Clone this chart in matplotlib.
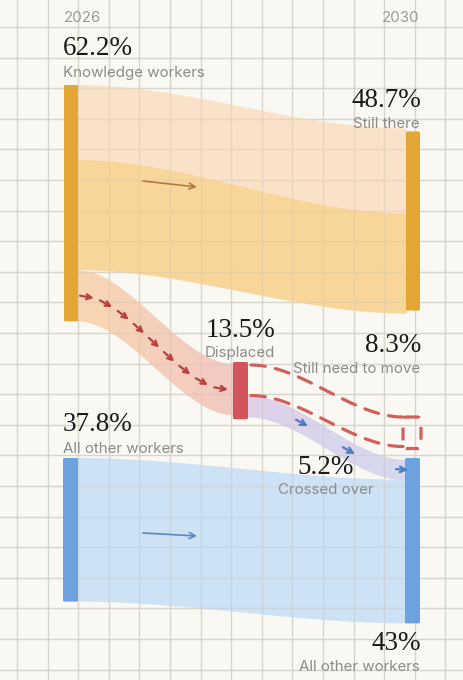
import numpy as np
import matplotlib
matplotlib.use("Agg")
import matplotlib.pyplot as plt
from matplotlib.patches import Polygon, FancyBboxPatch
from matplotlib.colors import to_rgb

# ---------------- data ----------------
years = ["2026", "2030"]
knowledge_2026 = 62.2
others_2026 = 37.8
still_there = 48.7
displaced = 13.5
still_need_to_move = 8.3
crossed_over = 5.2
others_2030 = 43.0

left_labels = ["Knowledge workers", "All other workers"]
mid_label = "Displaced"
right_labels = ["Still there", "Still need to move", "Crossed over", "All other workers"]

# ---------------- layout ----------------
W, H = 464, 680
K = 3.8                      # pixels per percentage point
XL0, XL1 = 64, 78            # left bars
XM0, XM1 = 233, 248          # displaced bar
XR0, XR1 = 406, 420          # right bars

BG = "#FAF8F3"
GRID = "#E0DDD7"
ORANGE_BAR = "#E3A533"
ORANGE_LIGHT = "#F9E0C3"
ORANGE_MID = "#F8D592"
RED_BAR = "#D2555E"
PEACH = "#F7D3AA"
PINK = "#F3C4C0"
LAV = "#DCCDE8"
LAV2 = "#D2D6EF"
BLUE_BAR = "#6EA2DF"
BLUE_FLOW = "#C8E0F5"
DASH = "#D0605C"
GRAY = "#8C8C8C"

fig = plt.figure(figsize=(W / 100, H / 100), dpi=100)
fig.patch.set_facecolor(BG)
ax = fig.add_axes([0, 0, 1, 1])
ax.set_xlim(0, W)
ax.set_ylim(H, 0)
ax.axis("off")
ax.set_facecolor(BG)

# grid (below, and faintly above the washes so it shows through)
step = 30.6
for k in range(-1, 17):
    ax.axvline(17 + step * k, color=GRID, lw=1.0, zorder=0)
    ax.axvline(17 + step * k, color="#C9C1B4", lw=0.9, alpha=0.28, zorder=2)
for k in range(-1, 23):
    ax.axhline(27 + step * k, color=GRID, lw=1.0, zorder=0)
    ax.axhline(27 + step * k, color="#C9C1B4", lw=0.9, alpha=0.28, zorder=2)


def smooth(t):
    t = np.clip(t, 0, 1)
    return t * t * (3 - 2 * t)


def edge(x0, x1, y0, y1, n=120):
    xs = np.linspace(x0, x1, n)
    ys = y0 + (y1 - y0) * smooth((xs - x0) / (x1 - x0))
    return xs, ys


def band(x0, x1, t0, b0, t1, b1, color, alpha=0.85, z=1):
    xs, ts = edge(x0, x1, t0, t1)
    _, bs = edge(x0, x1, b0, b1)
    pts = np.vstack([np.column_stack([xs, ts]), np.column_stack([xs[::-1], bs[::-1]])])
    p = Polygon(pts, closed=True, facecolor=color, edgecolor="none", alpha=alpha, zorder=z)
    ax.add_patch(p)
    return p


def grad_band(x0, x1, t0, b0, t1, b1, c0, c1, alpha=0.85, z=1):
    p = band(x0, x1, t0, b0, t1, b1, "none", alpha=0, z=z)
    ymin, ymax = min(t0, t1), max(b0, b1)
    n = 200
    a = np.linspace(0, 1, n)
    r0, r1 = np.array(to_rgb(c0)), np.array(to_rgb(c1))
    img = (r0[None, :] * (1 - a[:, None]) + r1[None, :] * a[:, None])[None, :, :]
    im = ax.imshow(img, extent=[x0, x1, ymax, ymin], aspect="auto", alpha=alpha,
                   zorder=z, interpolation="bilinear")
    im.set_clip_path(p)
    ax.set_xlim(0, W)
    ax.set_ylim(H, 0)


# node spans (heights from values)
kt_top = 85
kt_bot = kt_top + knowledge_2026 * K
ks_bot = kt_top + still_there * K
st_mid = 221
st_top = st_mid - still_there * K / 2
st_bot = st_mid + still_there * K / 2
d_top = 364
d_bot = d_top + displaced * K
d_split = d_top + still_need_to_move * K
o_top = 458
o_bot = o_top + others_2026 * K
r_top = 460
r_cross = r_top + crossed_over * K
r_bot = r_top + others_2030 * K

# orange main flow (two watercolor layers)
band(XL1 - 1, XR0 + 1, kt_top, ks_bot, st_top, st_bot, ORANGE_LIGHT, alpha=0.9)
band(XL1 - 1, XR0 + 1, kt_top + 75, ks_bot, st_top + 85, st_bot, ORANGE_MID, alpha=0.85)

# displaced flow (peach -> pink)
grad_band(XL1 - 1, XM0 + 1, ks_bot, kt_bot, d_top, d_bot, PEACH, PINK, alpha=0.9)

# crossed over flow
grad_band(XM1 - 1, XR0 + 1, d_split, d_bot + 2, r_top, r_cross + 1, LAV, LAV2, alpha=0.9)

# blue main flow
band(XL1 - 1, XR0 + 1, o_top, o_bot, r_cross, r_bot, BLUE_FLOW, alpha=0.9)

# bars
def bar(x0, x1, y0, y1, color):
    ax.add_patch(FancyBboxPatch((x0, y0), x1 - x0, y1 - y0,
                                boxstyle="round,pad=0,rounding_size=1.5",
                                facecolor=color, edgecolor="none", zorder=3))

bar(XL0, XL1, kt_top, kt_bot, ORANGE_BAR)
bar(XR0, XR1, st_top + 3, st_bot - 3, ORANGE_BAR)
bar(XM0, XM1, d_top - 2, d_bot + 4, RED_BAR)
bar(XL0 - 1, XL1, o_top, o_bot, BLUE_BAR)
bar(XR0 - 1, XR1, r_top - 2, r_bot, BLUE_BAR)

# dashed "still need to move" ghost flow
bx0, bx1 = 403, 421
xs, ts = edge(XM1 + 3, bx0, d_top + 1, d_top + 53)
_, bs = edge(XM1 + 3, bx0, d_split, d_split + 51)
ax.plot(xs, ts, color=DASH, lw=2.3, ls=(0, (4.5, 3.2)), zorder=4, dash_capstyle="round")
ax.plot(xs, bs, color=DASH, lw=2.3, ls=(0, (4.5, 3.2)), zorder=4, dash_capstyle="round")
ax.add_patch(FancyBboxPatch((bx0, d_top + 53), bx1 - bx0, still_need_to_move * K,
                            boxstyle="round,pad=0,rounding_size=4", facecolor="none",
                            edgecolor=DASH, lw=2.3, ls=(0, (4, 3)), zorder=4))

# arrows
def arrow(p0, p1, color, lw=1.3, ms=10):
    ax.annotate("", xy=p1, xytext=p0,
                arrowprops=dict(arrowstyle="->", color=color, lw=lw, mutation_scale=ms,
                                shrinkA=0, shrinkB=0), zorder=5)

arrow((143, 181), (197, 187), "#B47A45", lw=1.2, ms=11)
arrow((143, 533), (197, 536), "#5C88C4", lw=1.2, ms=11)

# chevron arrows along displaced centre line
cx, cy = edge(XL1 + 2, XM0 - 5, (ks_bot + kt_bot) / 2, (d_top + d_bot) / 2, n=400)
seg = np.hypot(np.diff(cx), np.diff(cy))
s = np.concatenate([[0], np.cumsum(seg)])
n_arr = 9
alen = 14
starts = np.linspace(0, s[-1] - alen, n_arr)
for s0 in starts:
    x0, y0 = np.interp(s0, s, cx), np.interp(s0, s, cy)
    x1, y1 = np.interp(s0 + alen, s, cx), np.interp(s0 + alen, s, cy)
    arrow((x0, y0), (x1, y1), "#B9423F", lw=1.6, ms=9)

# blue arrows in crossed-over flow
lx, ly = edge(XM1, XR0, (d_split + d_bot) / 2, (r_top + r_cross) / 2, n=400)
for xa in (296, 343, 396):
    ya0 = np.interp(xa, lx, ly)
    ya1 = np.interp(xa + 12, lx, ly)
    arrow((xa, ya0), (xa + 12, ya1), "#4E7CC2", lw=1.6, ms=10)

# ---------------- text ----------------
SANS = ["Inter", "DejaVu Sans"]
SERIF = ["Liberation Serif", "DejaVu Serif"]
lab_fs = 10.9
num_fs = 19.5

ax.text(64, 22, years[0], color="#9A9A9A", fontsize=10.8, family=SANS, va="baseline", ha="left")
ax.text(420, 22, years[1], color="#9A9A9A", fontsize=10.8, family=SANS, va="baseline", ha="right")

def num(x, y, v, ha):
    txt = f"{v:g}%"
    ax.text(x, y, txt, fontsize=num_fs, family=SERIF, color="#1A1A1A", va="baseline", ha=ha)

def lab(x, y, t, ha):
    ax.text(x, y, t, fontsize=lab_fs, family=SANS, color=GRAY, va="baseline", ha=ha)

num(63, 55, knowledge_2026, "left"); lab(63, 77, left_labels[0], "left")
num(421, 107, still_there, "right"); lab(420, 128, right_labels[0], "right")
num(240, 337, displaced, "center"); lab(240, 357, mid_label, "center")
num(421, 352, still_need_to_move, "right"); lab(420, 373, right_labels[1], "right")
num(63, 431, others_2026, "left"); lab(63, 453, left_labels[1], "left")
num(326, 474, crossed_over, "center"); lab(326, 494, right_labels[2], "center")
num(421, 650, others_2030, "right"); lab(420, 671, right_labels[3], "right")

fig.savefig("out.png", dpi=100, facecolor=BG)
